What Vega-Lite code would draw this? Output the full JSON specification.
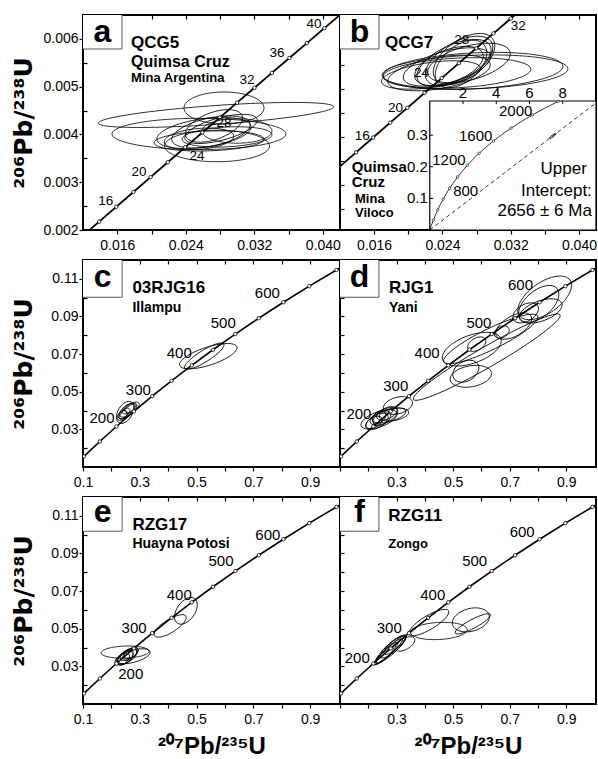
{
  "$schema": "https://vega.github.io/schema/vega-lite/v6.json",
  "background": "white",
  "padding": {"left": 10, "top": 13, "right": 1, "bottom": 1},
  "config": {
    "view": {"stroke": "black", "strokeWidth": 2},
    "font": "Liberation Sans",
    "text": {"font": "Liberation Sans", "color": "black"},
    "axis": {"domain": false, "grid": false, "tickColor": "black", "tickWidth": 1.2, "tickSize": 4, "labelFont": "Liberation Sans", "labelFontSize": 14, "labelColor": "black", "labelPadding": 2, "labelFlush": false, "labelOverlap": false, "titleFont": "Liberation Sans", "titleFontSize": 24, "titleFontWeight": "bold", "titleColor": "black"}
  },
  "datasets": {
    "concA": [{"t":12,"x":0.011888,"y":0.0018632},{"t":14,"x":0.013883,"y":0.0021741},{"t":16,"x":0.015882,"y":0.0024851},{"t":18,"x":0.017885,"y":0.0027962},{"t":20,"x":0.019892,"y":0.0031073},{"t":22,"x":0.021903,"y":0.0034186},{"t":24,"x":0.023918,"y":0.0037299},{"t":26,"x":0.025937,"y":0.0040414},{"t":28,"x":0.02796,"y":0.0043529},{"t":30,"x":0.029986,"y":0.0046646},{"t":32,"x":0.032017,"y":0.0049763},{"t":34,"x":0.034052,"y":0.0052882},{"t":36,"x":0.03609,"y":0.0056001},{"t":38,"x":0.038133,"y":0.0059121},{"t":40,"x":0.04018,"y":0.0062243},{"t":42,"x":0.042231,"y":0.0065365},{"t":44,"x":0.044286,"y":0.0068488}],
    "concB": [{"t":50,"x":0.050475,"y":0.0077864},{"t":100,"x":0.103498,"y":0.015634},{"t":150,"x":0.159197,"y":0.023542},{"t":200,"x":0.217708,"y":0.031511},{"t":250,"x":0.279172,"y":0.039543},{"t":300,"x":0.343737,"y":0.047637},{"t":350,"x":0.411562,"y":0.055795},{"t":400,"x":0.482812,"y":0.064016},{"t":450,"x":0.557657,"y":0.0723},{"t":500,"x":0.63628,"y":0.08065},{"t":550,"x":0.71887,"y":0.089064},{"t":600,"x":0.805631,"y":0.097544},{"t":650,"x":0.896771,"y":0.106089},{"t":700,"x":0.99251,"y":0.114702},{"t":750,"x":1.093083,"y":0.12338}],
    "concI": [{"t":0,"x":0,"y":0},{"t":100,"x":0.103498,"y":0.015634},{"t":200,"x":0.217708,"y":0.031511},{"t":300,"x":0.343737,"y":0.047637},{"t":400,"x":0.482812,"y":0.064016},{"t":500,"x":0.63628,"y":0.08065},{"t":600,"x":0.805631,"y":0.097544},{"t":700,"x":0.99251,"y":0.114702},{"t":800,"x":1.19873,"y":0.13213},{"t":900,"x":1.426296,"y":0.149828},{"t":1000,"x":1.67741,"y":0.167802},{"t":1100,"x":1.954517,"y":0.186058},{"t":1200,"x":2.260302,"y":0.2046},{"t":1300,"x":2.597738,"y":0.22343},{"t":1400,"x":2.970093,"y":0.242556},{"t":1500,"x":3.380991,"y":0.261981},{"t":1600,"x":3.834413,"y":0.28171},{"t":1700,"x":4.334766,"y":0.301747},{"t":1800,"x":4.8869,"y":0.322098},{"t":1900,"x":5.496182,"y":0.342768},{"t":2000,"x":6.16853,"y":0.36376},{"t":2100,"x":6.910453,"y":0.385082},{"t":2200,"x":7.729162,"y":0.406737}],
    "disc": [{"x":0,"y":0},{"x":10,"y":0.40213}],
    "ibox": [{"x":0,"x2":10,"y":0,"y2":0.408}],
    "iticks": [{"x":2,"x2":2,"y":0.408,"y2":0.398},{"x":4,"x2":4,"y":0.408,"y2":0.398},{"x":6,"x2":6,"y":0.408,"y2":0.398},{"x":8,"x2":8,"y":0.408,"y2":0.398},{"x":0,"x2":0.2,"y":0.1,"y2":0.1},{"x":0,"x2":0.2,"y":0.2,"y2":0.2},{"x":0,"x2":0.2,"y":0.3,"y2":0.3}],
    "ixlab": [{"text":"2","x":2,"y":0.416},{"text":"4","x":4,"y":0.416},{"text":"6","x":6,"y":0.416},{"text":"8","x":8,"y":0.416}],
    "iylab": [{"text":"0.1","x":-0.12,"y":0.1},{"text":"0.2","x":-0.12,"y":0.2},{"text":"0.3","x":-0.12,"y":0.3}],
    "itext": [{"text":"Upper","x":9.45,"y":0.194},{"text":"Intercept:","x":9.75,"y":0.124},{"text":"2656 ± 6 Ma","x":9.75,"y":0.061}],
    "boxes": [
      {"panel":"a","x":0.011,"x2":0.016552,"y":0.005789,"y2":0.007},
      {"panel":"b","x":0.011,"x2":0.01657,"y":0.004339,"y2":0.0055},
      {"panel":"c","x":0.05,"x2":0.2377,"y":0.1002,"y2":0.13},
      {"panel":"d","x":0.05,"x2":0.2377,"y":0.1002,"y2":0.13},
      {"panel":"e","x":0.05,"x2":0.2377,"y":0.1018,"y2":0.13},
      {"panel":"f","x":0.05,"x2":0.2377,"y":0.1018,"y2":0.13}
    ],
    "txt": [
      {"panel":"a","kind":"letter","text":"a","x":0.014276,"y":0.005941},
      {"panel":"a","kind":"title","text":"QCG5","x":0.017603,"y":0.00592},
      {"panel":"a","kind":"subL","text":"Quimsa Cruz","x":0.017603,"y":0.005517},
      {"panel":"a","kind":"subS","text":"Mina Argentina","x":0.017603,"y":0.005172},
      {"panel":"b","kind":"letter","text":"b","x":0.014285,"y":0.004491},
      {"panel":"b","kind":"title","text":"QCG7","x":0.017274,"y":0.00447},
      {"panel":"b","kind":"subM","text":"Quimsa","x":0.013371,"y":0.001865},
      {"panel":"b","kind":"subM","text":"Cruz","x":0.013371,"y":0.001545},
      {"panel":"b","kind":"subS","text":"Mina","x":0.013758,"y":0.001194},
      {"panel":"b","kind":"subS","text":"Viloco","x":0.013758,"y":0.000908},
      {"panel":"c","kind":"letter","text":"c","x":0.1688,"y":0.10574},
      {"panel":"c","kind":"title","text":"03RJG16","x":0.274,"y":0.10537},
      {"panel":"c","kind":"sub","text":"Illampu","x":0.274,"y":0.09437},
      {"panel":"d","kind":"letter","text":"d","x":0.1688,"y":0.10574},
      {"panel":"d","kind":"title","text":"RJG1","x":0.273,"y":0.10537},
      {"panel":"d","kind":"sub","text":"Yani","x":0.273,"y":0.09469},
      {"panel":"e","kind":"letter","text":"e","x":0.1688,"y":0.10665},
      {"panel":"e","kind":"title","text":"RZG17","x":0.274,"y":0.10489},
      {"panel":"e","kind":"sub","text":"Huayna Potosi","x":0.274,"y":0.09512},
      {"panel":"f","kind":"letter","text":"f","x":0.1688,"y":0.10665},
      {"panel":"f","kind":"title","text":"RZG11","x":0.2705,"y":0.1097},
      {"panel":"f","kind":"subS","text":"Zongo","x":0.2705,"y":0.09512}
    ],
    "ages": [
      {"panel":"a","text":"16","x":0.01465,"y":0.002609},{"panel":"a","text":"20","x":0.018537,"y":0.003222},{"panel":"a","text":"24","x":0.025307,"y":0.00355},{"panel":"a","text":"28","x":0.02846,"y":0.00425},{"panel":"a","text":"32","x":0.031143,"y":0.00514},{"panel":"a","text":"36","x":0.034645,"y":0.005705},{"panel":"a","text":"40","x":0.038964,"y":0.006312},
      {"panel":"b","text":"16","x":0.0146,"y":0.002519},{"panel":"b","text":"20","x":0.0185,"y":0.00311},{"panel":"b","text":"24","x":0.02154,"y":0.003843},{"panel":"b","text":"28","x":0.02628,"y":0.004521},{"panel":"b","text":"32","x":0.03289,"y":0.00482},
      {"panel":"c","text":"200","x":0.167,"y":0.036},{"panel":"c","text":"300","x":0.295,"y":0.0511},{"panel":"c","text":"400","x":0.439,"y":0.0707},{"panel":"c","text":"500","x":0.594,"y":0.0867},{"panel":"c","text":"600","x":0.749,"y":0.1022},
      {"panel":"d","text":"200","x":0.167,"y":0.0383},{"panel":"d","text":"300","x":0.297,"y":0.0529},{"panel":"d","text":"400","x":0.408,"y":0.0707},{"panel":"d","text":"500","x":0.591,"y":0.0867},{"panel":"d","text":"600","x":0.738,"y":0.1068},
      {"panel":"e","text":"200","x":0.268,"y":0.0257},{"panel":"e","text":"300","x":0.28,"y":0.0503},{"panel":"e","text":"400","x":0.439,"y":0.068},{"panel":"e","text":"500","x":0.586,"y":0.0858},{"panel":"e","text":"600","x":0.751,"y":0.0996},
      {"panel":"f","text":"200","x":0.161,"y":0.0346},{"panel":"f","text":"300","x":0.274,"y":0.0506},{"panel":"f","text":"400","x":0.428,"y":0.0681},{"panel":"f","text":"500","x":0.576,"y":0.086},{"panel":"f","text":"600","x":0.744,"y":0.1013},
      {"panel":"i","text":"800","x":2.16,"y":0.124},{"panel":"i","text":"1200","x":1.155,"y":0.221},{"panel":"i","text":"1600","x":2.76,"y":0.297},{"panel":"i","text":"2000","x":5.17,"y":0.376}
    ],
    "ell": [
      {"panel":"a","x":0.027525,"y":0.004408,"major":0.02755,"ratio":"r08","angle":-4},
      {"panel":"a","x":0.02554,"y":0.00401,"major":0.02031,"ratio":"r18","angle":0},
      {"panel":"a","x":0.028459,"y":0.004554,"major":0.00934,"ratio":"r40","angle":0},
      {"panel":"a","x":0.027641,"y":0.003759,"major":0.01226,"ratio":"r30","angle":0},
      {"panel":"a","x":0.026124,"y":0.004031,"major":0.01109,"ratio":"r30","angle":-8},
      {"panel":"a","x":0.026941,"y":0.004052,"major":0.00934,"ratio":"r35","angle":-12},
      {"panel":"a","x":0.028108,"y":0.004115,"major":0.00875,"ratio":"r30","angle":-15},
      {"panel":"a","x":0.02554,"y":0.003906,"major":0.00817,"ratio":"r30","angle":-5},
      {"panel":"a","x":0.028809,"y":0.003948,"major":0.01051,"ratio":"r22","angle":-3},
      {"panel":"a","x":0.027291,"y":0.004178,"major":0.007,"ratio":"r45","angle":-20},
      {"panel":"a","x":0.026708,"y":0.003864,"major":0.01284,"ratio":"r18","angle":-2},
      {"panel":"a","x":0.029976,"y":0.004073,"major":0.00817,"ratio":"r35","angle":0},
      {"panel":"b","x":0.027821,"y":0.003858,"major":0.0218,"ratio":"r18","angle":-2},
      {"panel":"b","x":0.027587,"y":0.003879,"major":0.0211,"ratio":"r20","angle":-3},
      {"panel":"b","x":0.025711,"y":0.003837,"major":0.01734,"ratio":"r20","angle":-3},
      {"panel":"b","x":0.023602,"y":0.003837,"major":0.01219,"ratio":"r30","angle":-10},
      {"panel":"b","x":0.022664,"y":0.003795,"major":0.01172,"ratio":"r25","angle":-8},
      {"panel":"b","x":0.02536,"y":0.004046,"major":0.00938,"ratio":"r45","angle":-25},
      {"panel":"b","x":0.025946,"y":0.004088,"major":0.00879,"ratio":"r50","angle":-30},
      {"panel":"b","x":0.024774,"y":0.003983,"major":0.00844,"ratio":"r45","angle":-20},
      {"panel":"b","x":0.026532,"y":0.00413,"major":0.0082,"ratio":"r55","angle":-35},
      {"panel":"b","x":0.02454,"y":0.003962,"major":0.01055,"ratio":"r35","angle":-15},
      {"panel":"b","x":0.027118,"y":0.004046,"major":0.00996,"ratio":"r40","angle":-15},
      {"panel":"b","x":0.02618,"y":0.004025,"major":0.00703,"ratio":"r60","angle":-40},
      {"panel":"i","x":7.4,"y":0.2976,"major":0.5,"ratio":"r22","angle":-37},
      {"panel":"c","x":0.5412,"y":0.0689,"major":0.2118,"ratio":"r30","angle":-18},
      {"panel":"c","x":0.5271,"y":0.0689,"major":0.1624,"ratio":"r25","angle":-32},
      {"panel":"c","x":0.2483,"y":0.039,"major":0.0847,"ratio":"r60","angle":-60},
      {"panel":"c","x":0.2553,"y":0.0401,"major":0.0635,"ratio":"r50","angle":-40},
      {"panel":"c","x":0.2624,"y":0.0411,"major":0.0565,"ratio":"r45","angle":-35},
      {"panel":"c","x":0.2447,"y":0.0385,"major":0.0494,"ratio":"r50","angle":-40},
      {"panel":"c","x":0.273,"y":0.0417,"major":0.0565,"ratio":"r50","angle":-30},
      {"panel":"c","x":0.2377,"y":0.0374,"major":0.0424,"ratio":"r60","angle":-45},
      {"panel":"c","x":0.2588,"y":0.0395,"major":0.0777,"ratio":"r35","angle":-40},
      {"panel":"d","x":0.8236,"y":0.0999,"major":0.2188,"ratio":"r50","angle":-35},
      {"panel":"d","x":0.8024,"y":0.0967,"major":0.1694,"ratio":"r55","angle":-40},
      {"panel":"d","x":0.8095,"y":0.0929,"major":0.1588,"ratio":"r45","angle":-20},
      {"panel":"d","x":0.6189,"y":0.0684,"major":0.5983,"ratio":"r12","angle":-30},
      {"panel":"d","x":0.5624,"y":0.0582,"major":0.1483,"ratio":"r50","angle":-10},
      {"panel":"d","x":0.5448,"y":0.0609,"major":0.0988,"ratio":"r70","angle":-30},
      {"panel":"d","x":0.5659,"y":0.0726,"major":0.2188,"ratio":"r45","angle":-20},
      {"panel":"d","x":0.6718,"y":0.0817,"major":0.0565,"ratio":"r70","angle":-30},
      {"panel":"d","x":0.5836,"y":0.0753,"major":0.0706,"ratio":"r60","angle":-30},
      {"panel":"d","x":0.633,"y":0.078,"major":0.3706,"ratio":"r20","angle":-26},
      {"panel":"d","x":0.7142,"y":0.0849,"major":0.1412,"ratio":"r50","angle":-30},
      {"panel":"d","x":0.7565,"y":0.0919,"major":0.0988,"ratio":"r60","angle":-30},
      {"panel":"d","x":0.3047,"y":0.0427,"major":0.1059,"ratio":"r55","angle":-15},
      {"panel":"d","x":0.2377,"y":0.0353,"major":0.1341,"ratio":"r40","angle":-20},
      {"panel":"d","x":0.2553,"y":0.0369,"major":0.1059,"ratio":"r45","angle":-25},
      {"panel":"d","x":0.2306,"y":0.0342,"major":0.0882,"ratio":"r50","angle":-30},
      {"panel":"d","x":0.273,"y":0.0374,"major":0.1235,"ratio":"r35","angle":-15},
      {"panel":"d","x":0.2483,"y":0.0358,"major":0.0706,"ratio":"r60","angle":-35},
      {"panel":"d","x":0.22,"y":0.0337,"major":0.0635,"ratio":"r55","angle":-30},
      {"panel":"d","x":0.2659,"y":0.0385,"major":0.0777,"ratio":"r50","angle":-25},
      {"panel":"d","x":0.2906,"y":0.0379,"major":0.1059,"ratio":"r40","angle":-10},
      {"panel":"d","x":0.2377,"y":0.0363,"major":0.0529,"ratio":"r70","angle":-40},
      {"panel":"e","x":0.4625,"y":0.0595,"major":0.1059,"ratio":"r60","angle":-55},
      {"panel":"e","x":0.4071,"y":0.0515,"major":0.1306,"ratio":"r35","angle":-32},
      {"panel":"e","x":0.2483,"y":0.0376,"major":0.1694,"ratio":"r25","angle":-2},
      {"panel":"e","x":0.2765,"y":0.0354,"major":0.1235,"ratio":"r35","angle":-15},
      {"panel":"e","x":0.2553,"y":0.0354,"major":0.0777,"ratio":"r50","angle":-35},
      {"panel":"e","x":0.2483,"y":0.0344,"major":0.0635,"ratio":"r55","angle":-40},
      {"panel":"e","x":0.2624,"y":0.0365,"major":0.0706,"ratio":"r45","angle":-30},
      {"panel":"e","x":0.2412,"y":0.0339,"major":0.0529,"ratio":"r60","angle":-40},
      {"panel":"e","x":0.2694,"y":0.0371,"major":0.0565,"ratio":"r50","angle":-35},
      {"panel":"e","x":0.2518,"y":0.0349,"major":0.0882,"ratio":"r40","angle":-30},
      {"panel":"e","x":0.2588,"y":0.036,"major":0.0424,"ratio":"r70","angle":-45},
      {"panel":"f","x":0.4142,"y":0.0533,"major":0.1624,"ratio":"r30","angle":-31},
      {"panel":"f","x":0.4495,"y":0.0488,"major":0.2012,"ratio":"r30","angle":-3},
      {"panel":"f","x":0.5624,"y":0.0547,"major":0.1341,"ratio":"r60","angle":-15},
      {"panel":"f","x":0.5695,"y":0.0526,"major":0.1412,"ratio":"r22","angle":-28},
      {"panel":"f","x":0.3294,"y":0.0419,"major":0.0777,"ratio":"r50","angle":-30},
      {"panel":"f","x":0.28,"y":0.0392,"major":0.1412,"ratio":"r25","angle":-42},
      {"panel":"f","x":0.273,"y":0.0382,"major":0.1271,"ratio":"r20","angle":-42},
      {"panel":"f","x":0.2871,"y":0.0403,"major":0.113,"ratio":"r30","angle":-40},
      {"panel":"f","x":0.2659,"y":0.0371,"major":0.1059,"ratio":"r22","angle":-44},
      {"panel":"f","x":0.2941,"y":0.0414,"major":0.0988,"ratio":"r30","angle":-40},
      {"panel":"f","x":0.2553,"y":0.0355,"major":0.0882,"ratio":"r25","angle":-42},
      {"panel":"f","x":0.2765,"y":0.0387,"major":0.1553,"ratio":"r15","angle":-42}
    ]
  },
  "resolve": {"scale": {"size": "independent"}},
  "columns": 2,
  "spacing": {"row": 30, "column": 0},
  "bounds": "flush",
  "concat": [
    {
      "width": 257, "height": 215,
      "resolve": {"axis": {"x": "independent", "y": "independent"}},
      "encoding": {
        "x": {"field": "x", "type": "quantitative", "scale": {"domain": [0.012, 0.042], "nice": false, "zero": false}, "axis": null},
        "y": {"field": "y", "type": "quantitative", "scale": {"domain": [0.002, 0.0065], "nice": false, "zero": false}, "axis": null}
      },
      "layer": [
        {"data": {"name": "ell"}, "transform": [{"filter": "datum.panel == 'a'"}],
         "mark": {"type": "point", "filled": false, "color": "black", "strokeWidth": 0.8, "opacity": 1, "clip": true},
         "encoding": {
           "shape": {"field": "ratio", "type": "nominal", "legend": null, "scale": {"domain": ["r08","r12","r15","r18","r20","r22","r25","r30","r35","r40","r45","r50","r55","r60","r70"], "range": ["M-1,0A1,0.08,0,1,0,1,0A1,0.08,0,1,0,-1,0Z","M-1,0A1,0.12,0,1,0,1,0A1,0.12,0,1,0,-1,0Z","M-1,0A1,0.15,0,1,0,1,0A1,0.15,0,1,0,-1,0Z","M-1,0A1,0.18,0,1,0,1,0A1,0.18,0,1,0,-1,0Z","M-1,0A1,0.2,0,1,0,1,0A1,0.2,0,1,0,-1,0Z","M-1,0A1,0.22,0,1,0,1,0A1,0.22,0,1,0,-1,0Z","M-1,0A1,0.25,0,1,0,1,0A1,0.25,0,1,0,-1,0Z","M-1,0A1,0.3,0,1,0,1,0A1,0.3,0,1,0,-1,0Z","M-1,0A1,0.35,0,1,0,1,0A1,0.35,0,1,0,-1,0Z","M-1,0A1,0.4,0,1,0,1,0A1,0.4,0,1,0,-1,0Z","M-1,0A1,0.45,0,1,0,1,0A1,0.45,0,1,0,-1,0Z","M-1,0A1,0.5,0,1,0,1,0A1,0.5,0,1,0,-1,0Z","M-1,0A1,0.55,0,1,0,1,0A1,0.55,0,1,0,-1,0Z","M-1,0A1,0.6,0,1,0,1,0A1,0.6,0,1,0,-1,0Z","M-1,0A1,0.7,0,1,0,1,0A1,0.7,0,1,0,-1,0Z"]}},
           "size": {"field": "major", "type": "quantitative", "legend": null, "scale": {"type": "pow", "exponent": 2, "domain": [0, 0.03], "range": [0, 66049]}},
           "angle": {"field": "angle", "type": "quantitative", "scale": null}
         }},
        {"data": {"name": "concA"}, "mark": {"type": "line", "color": "black", "strokeWidth": 1.8, "clip": true},
         "encoding": {
           "x": {"field": "x", "type": "quantitative", "scale": {"domain": [0.012, 0.042], "nice": false, "zero": false}, "axis": {"orient": "bottom", "values": [0.016,0.02,0.024,0.028,0.032,0.036,0.04], "format": ".3f", "labelExpr": "round(datum.value*1000) % 8 == 0 ? datum.label : ''", "title": null, "labelPadding": 4}},
           "y": {"field": "y", "type": "quantitative", "scale": {"domain": [0.002, 0.0065], "nice": false, "zero": false}, "axis": {"orient": "left", "values": [0.002,0.003,0.004,0.005,0.006], "format": ".3f", "title": "²⁰⁶Pb/²³⁸U", "titleFont": "DejaVu Sans", "titleFontSize": 25, "titlePadding": 6, "labelPadding": 1}}
         }},
        {"data": {"name": "concA"}, "mark": {"type": "point", "shape": "circle", "filled": true, "fill": "white", "stroke": "black", "strokeWidth": 0.8, "size": 12, "opacity": 1, "clip": true},
         "encoding": {
           "x": {"field": "x", "type": "quantitative", "scale": {"domain": [0.012, 0.042], "nice": false, "zero": false}, "axis": {"orient": "top", "values": [0.016,0.02,0.024,0.028,0.032,0.036,0.04], "labels": false, "tickSize": -4, "title": null}},
           "y": {"field": "y", "type": "quantitative", "scale": {"domain": [0.002, 0.0065], "nice": false, "zero": false}, "axis": {"orient": "left", "values": [0.0025,0.0035,0.0045,0.0055], "labels": false, "tickSize": -4, "title": null}}
         }},
        {"data": {"name": "ages"}, "transform": [{"filter": "datum.panel == 'a'"}], "mark": {"type": "text", "fontSize": 13.5, "align": "center", "baseline": "middle"}, "encoding": {"text": {"field": "text"}}},
        {"data": {"name": "boxes"}, "transform": [{"filter": "datum.panel == 'a'"}], "mark": {"type": "rect", "fill": "white", "stroke": "#555555", "strokeWidth": 1, "clip": true}, "encoding": {"x2": {"field": "x2"}, "y2": {"field": "y2"}}},
        {"data": {"name": "txt"}, "transform": [{"filter": "datum.panel == 'a'"}], "mark": {"type": "text", "fontWeight": "bold", "fontSize": {"expr": "datum.kind == 'letter' ? 32 : datum.kind == 'title' ? 17 : datum.kind == 'subL' ? 16 : datum.kind == 'subM' ? 15 : datum.kind == 'sub' ? 14 : 13"}, "align": {"expr": "datum.kind == 'letter' ? 'center' : 'left'"}, "baseline": {"expr": "datum.kind == 'letter' ? 'alphabetic' : 'middle'"}}, "encoding": {"text": {"field": "text"}}}
      ]
    },
    {
      "width": 256, "height": 215,
      "resolve": {"scale": {"x": "independent", "y": "independent", "size": "independent"}},
      "layer": [
        {
          "resolve": {"axis": {"x": "independent", "y": "independent"}},
          "encoding": {
            "x": {"field": "x", "type": "quantitative", "scale": {"domain": [0.012, 0.042], "nice": false, "zero": false}, "axis": null},
            "y": {"field": "y", "type": "quantitative", "scale": {"domain": [0.00055, 0.00505], "nice": false, "zero": false}, "axis": null}
          },
          "layer": [
            {"data": {"name": "ell"}, "transform": [{"filter": "datum.panel == 'b'"}],
             "mark": {"type": "point", "filled": false, "color": "black", "strokeWidth": 0.8, "opacity": 1, "clip": true},
             "encoding": {
               "shape": {"field": "ratio", "type": "nominal", "legend": null, "scale": {"domain": ["r08","r12","r15","r18","r20","r22","r25","r30","r35","r40","r45","r50","r55","r60","r70"], "range": ["M-1,0A1,0.08,0,1,0,1,0A1,0.08,0,1,0,-1,0Z","M-1,0A1,0.12,0,1,0,1,0A1,0.12,0,1,0,-1,0Z","M-1,0A1,0.15,0,1,0,1,0A1,0.15,0,1,0,-1,0Z","M-1,0A1,0.18,0,1,0,1,0A1,0.18,0,1,0,-1,0Z","M-1,0A1,0.2,0,1,0,1,0A1,0.2,0,1,0,-1,0Z","M-1,0A1,0.22,0,1,0,1,0A1,0.22,0,1,0,-1,0Z","M-1,0A1,0.25,0,1,0,1,0A1,0.25,0,1,0,-1,0Z","M-1,0A1,0.3,0,1,0,1,0A1,0.3,0,1,0,-1,0Z","M-1,0A1,0.35,0,1,0,1,0A1,0.35,0,1,0,-1,0Z","M-1,0A1,0.4,0,1,0,1,0A1,0.4,0,1,0,-1,0Z","M-1,0A1,0.45,0,1,0,1,0A1,0.45,0,1,0,-1,0Z","M-1,0A1,0.5,0,1,0,1,0A1,0.5,0,1,0,-1,0Z","M-1,0A1,0.55,0,1,0,1,0A1,0.55,0,1,0,-1,0Z","M-1,0A1,0.6,0,1,0,1,0A1,0.6,0,1,0,-1,0Z","M-1,0A1,0.7,0,1,0,1,0A1,0.7,0,1,0,-1,0Z"]}},
               "size": {"field": "major", "type": "quantitative", "legend": null, "scale": {"type": "pow", "exponent": 2, "domain": [0, 0.03], "range": [0, 65536]}},
               "angle": {"field": "angle", "type": "quantitative", "scale": null}
             }},
            {"data": {"name": "concA"}, "mark": {"type": "line", "color": "black", "strokeWidth": 1.8, "clip": true},
             "encoding": {
               "x": {"field": "x", "type": "quantitative", "scale": {"domain": [0.012, 0.042], "nice": false, "zero": false}, "axis": {"orient": "bottom", "values": [0.016,0.02,0.024,0.028,0.032,0.036,0.04], "format": ".3f", "labelExpr": "round(datum.value*1000) % 8 == 0 ? datum.label : ''", "title": null, "labelPadding": 4}},
               "y": {"field": "y", "type": "quantitative", "scale": {"domain": [0.00055, 0.00505], "nice": false, "zero": false}, "axis": {"orient": "left", "values": [0.001,0.0015,0.002,0.0025,0.003,0.0035,0.004,0.0045], "labels": false, "tickSize": -4, "title": null}}
             }},
            {"data": {"name": "concA"}, "mark": {"type": "point", "shape": "circle", "filled": true, "fill": "white", "stroke": "black", "strokeWidth": 0.8, "size": 12, "opacity": 1, "clip": true},
             "encoding": {
               "x": {"field": "x", "type": "quantitative", "scale": {"domain": [0.012, 0.042], "nice": false, "zero": false}, "axis": {"orient": "top", "values": [0.016,0.02,0.024,0.028,0.032,0.036,0.04], "labels": false, "tickSize": -4, "title": null}}
             }},
            {"data": {"name": "ages"}, "transform": [{"filter": "datum.panel == 'b'"}], "mark": {"type": "text", "fontSize": 13.5, "align": "center", "baseline": "middle"}, "encoding": {"text": {"field": "text"}}},
            {"data": {"name": "boxes"}, "transform": [{"filter": "datum.panel == 'b'"}], "mark": {"type": "rect", "fill": "white", "stroke": "#555555", "strokeWidth": 1, "clip": true}, "encoding": {"x2": {"field": "x2"}, "y2": {"field": "y2"}}},
            {"data": {"name": "txt"}, "transform": [{"filter": "datum.panel == 'b'"}], "mark": {"type": "text", "fontWeight": "bold", "fontSize": {"expr": "datum.kind == 'letter' ? 32 : datum.kind == 'title' ? 17 : datum.kind == 'subL' ? 16 : datum.kind == 'subM' ? 15 : datum.kind == 'sub' ? 14 : 13"}, "align": {"expr": "datum.kind == 'letter' ? 'center' : 'left'"}, "baseline": {"expr": "datum.kind == 'letter' ? 'alphabetic' : 'middle'"}}, "encoding": {"text": {"field": "text"}}}
          ]
        },
        {
          "encoding": {
            "x": {"field": "x", "type": "quantitative", "scale": {"domain": [-5.4, 10], "nice": false, "zero": false}, "axis": null},
            "y": {"field": "y", "type": "quantitative", "scale": {"domain": [0, 0.68], "nice": false, "zero": false}, "axis": null}
          },
          "layer": [
            {"data": {"name": "ibox"}, "mark": {"type": "rect", "fill": "white", "stroke": "black", "strokeWidth": 1.2}, "encoding": {"x2": {"field": "x2"}, "y2": {"field": "y2"}}},
            {"data": {"name": "iticks"}, "mark": {"type": "rule", "color": "black", "strokeWidth": 1}, "encoding": {"x2": {"field": "x2"}, "y2": {"field": "y2"}}},
            {"data": {"name": "ixlab"}, "mark": {"type": "text", "fontSize": 15, "align": "center", "baseline": "alphabetic"}, "encoding": {"text": {"field": "text"}}},
            {"data": {"name": "iylab"}, "mark": {"type": "text", "fontSize": 15, "align": "right", "baseline": "middle"}, "encoding": {"text": {"field": "text"}}},
            {"data": {"name": "disc"}, "mark": {"type": "line", "color": "black", "strokeWidth": 0.8, "strokeDash": [4, 3]}, "encoding": {}},
            {"data": {"name": "concI"}, "mark": {"type": "line", "color": "black", "strokeWidth": 0.8}, "encoding": {}},
            {"data": {"name": "concI"}, "transform": [{"filter": "datum.t > 0 && datum.t % 200 == 0"}], "mark": {"type": "point", "shape": "circle", "filled": true, "fill": "white", "stroke": "black", "strokeWidth": 0.6, "size": 6, "opacity": 1}},
            {"data": {"name": "ell"}, "transform": [{"filter": "datum.panel == 'i'"}],
             "mark": {"type": "point", "filled": false, "color": "black", "strokeWidth": 0.8, "opacity": 1},
             "encoding": {
               "shape": {"field": "ratio", "type": "nominal", "legend": null, "scale": {"domain": ["r08","r12","r15","r18","r20","r22","r25","r30","r35","r40","r45","r50","r55","r60","r70"], "range": ["M-1,0A1,0.08,0,1,0,1,0A1,0.08,0,1,0,-1,0Z","M-1,0A1,0.12,0,1,0,1,0A1,0.12,0,1,0,-1,0Z","M-1,0A1,0.15,0,1,0,1,0A1,0.15,0,1,0,-1,0Z","M-1,0A1,0.18,0,1,0,1,0A1,0.18,0,1,0,-1,0Z","M-1,0A1,0.2,0,1,0,1,0A1,0.2,0,1,0,-1,0Z","M-1,0A1,0.22,0,1,0,1,0A1,0.22,0,1,0,-1,0Z","M-1,0A1,0.25,0,1,0,1,0A1,0.25,0,1,0,-1,0Z","M-1,0A1,0.3,0,1,0,1,0A1,0.3,0,1,0,-1,0Z","M-1,0A1,0.35,0,1,0,1,0A1,0.35,0,1,0,-1,0Z","M-1,0A1,0.4,0,1,0,1,0A1,0.4,0,1,0,-1,0Z","M-1,0A1,0.45,0,1,0,1,0A1,0.45,0,1,0,-1,0Z","M-1,0A1,0.5,0,1,0,1,0A1,0.5,0,1,0,-1,0Z","M-1,0A1,0.55,0,1,0,1,0A1,0.55,0,1,0,-1,0Z","M-1,0A1,0.6,0,1,0,1,0A1,0.6,0,1,0,-1,0Z","M-1,0A1,0.7,0,1,0,1,0A1,0.7,0,1,0,-1,0Z"]}},
               "size": {"field": "major", "type": "quantitative", "legend": null, "scale": {"type": "pow", "exponent": 2, "domain": [0, 15.4], "range": [0, 65536]}},
               "angle": {"field": "angle", "type": "quantitative", "scale": null}
             }},
            {"data": {"name": "ages"}, "transform": [{"filter": "datum.panel == 'i'"}], "mark": {"type": "text", "fontSize": 15, "align": "center", "baseline": "middle"}, "encoding": {"text": {"field": "text"}}},
            {"data": {"name": "itext"}, "mark": {"type": "text", "fontSize": 17, "align": "right", "baseline": "middle"}, "encoding": {"text": {"field": "text"}}}
          ]
        }
      ]
    },
    {
      "width": 257, "height": 207,
      "resolve": {"axis": {"x": "independent", "y": "independent"}},
      "encoding": {
        "x": {"field": "x", "type": "quantitative", "scale": {"domain": [0.1, 1.005], "nice": false, "zero": false}, "axis": null},
        "y": {"field": "y", "type": "quantitative", "scale": {"domain": [0.01, 0.12], "nice": false, "zero": false}, "axis": null}
      },
      "layer": [
        {"data": {"name": "ell"}, "transform": [{"filter": "datum.panel == 'c'"}],
         "mark": {"type": "point", "filled": false, "color": "black", "strokeWidth": 0.8, "opacity": 1, "clip": true},
         "encoding": {
           "shape": {"field": "ratio", "type": "nominal", "legend": null, "scale": {"domain": ["r08","r12","r15","r18","r20","r22","r25","r30","r35","r40","r45","r50","r55","r60","r70"], "range": ["M-1,0A1,0.08,0,1,0,1,0A1,0.08,0,1,0,-1,0Z","M-1,0A1,0.12,0,1,0,1,0A1,0.12,0,1,0,-1,0Z","M-1,0A1,0.15,0,1,0,1,0A1,0.15,0,1,0,-1,0Z","M-1,0A1,0.18,0,1,0,1,0A1,0.18,0,1,0,-1,0Z","M-1,0A1,0.2,0,1,0,1,0A1,0.2,0,1,0,-1,0Z","M-1,0A1,0.22,0,1,0,1,0A1,0.22,0,1,0,-1,0Z","M-1,0A1,0.25,0,1,0,1,0A1,0.25,0,1,0,-1,0Z","M-1,0A1,0.3,0,1,0,1,0A1,0.3,0,1,0,-1,0Z","M-1,0A1,0.35,0,1,0,1,0A1,0.35,0,1,0,-1,0Z","M-1,0A1,0.4,0,1,0,1,0A1,0.4,0,1,0,-1,0Z","M-1,0A1,0.45,0,1,0,1,0A1,0.45,0,1,0,-1,0Z","M-1,0A1,0.5,0,1,0,1,0A1,0.5,0,1,0,-1,0Z","M-1,0A1,0.55,0,1,0,1,0A1,0.55,0,1,0,-1,0Z","M-1,0A1,0.6,0,1,0,1,0A1,0.6,0,1,0,-1,0Z","M-1,0A1,0.7,0,1,0,1,0A1,0.7,0,1,0,-1,0Z"]}},
           "size": {"field": "major", "type": "quantitative", "legend": null, "scale": {"type": "pow", "exponent": 2, "domain": [0, 0.905], "range": [0, 66049]}},
           "angle": {"field": "angle", "type": "quantitative", "scale": null}
         }},
        {"data": {"name": "concB"}, "mark": {"type": "line", "color": "black", "strokeWidth": 1.6, "clip": true},
         "encoding": {
           "x": {"field": "x", "type": "quantitative", "scale": {"domain": [0.1, 1.005], "nice": false, "zero": false}, "axis": {"orient": "bottom", "values": [0.1,0.2,0.3,0.4,0.5,0.6,0.7,0.8,0.9], "format": ".1f", "labelExpr": "round(datum.value*10) % 2 == 1 ? datum.label : ''", "title": null, "labelPadding": 4}},
           "y": {"field": "y", "type": "quantitative", "scale": {"domain": [0.01, 0.12], "nice": false, "zero": false}, "axis": {"orient": "left", "values": [0.03,0.05,0.07,0.09,0.11], "format": ".2f", "title": "²⁰⁶Pb/²³⁸U", "titleFont": "DejaVu Sans", "titleFontSize": 25, "titlePadding": 14, "labelPadding": 1}}
         }},
        {"data": {"name": "concB"}, "transform": [{"filter": "datum.t >= 100 && datum.t <= 700"}], "mark": {"type": "point", "shape": "circle", "filled": true, "fill": "white", "stroke": "black", "strokeWidth": 0.8, "size": 12, "opacity": 1, "clip": true},
         "encoding": {
           "x": {"field": "x", "type": "quantitative", "scale": {"domain": [0.1, 1.005], "nice": false, "zero": false}, "axis": {"orient": "top", "values": [0.2,0.3,0.4,0.5,0.6,0.7,0.8,0.9], "labels": false, "tickSize": -4, "title": null}},
           "y": {"field": "y", "type": "quantitative", "scale": {"domain": [0.01, 0.12], "nice": false, "zero": false}, "axis": {"orient": "left", "values": [0.02,0.04,0.06,0.08,0.1], "labels": false, "tickSize": -4, "title": null}}
         }},
        {"data": {"name": "ages"}, "transform": [{"filter": "datum.panel == 'c'"}], "mark": {"type": "text", "fontSize": 15, "align": "center", "baseline": "middle"}, "encoding": {"text": {"field": "text"}}},
        {"data": {"name": "boxes"}, "transform": [{"filter": "datum.panel == 'c'"}], "mark": {"type": "rect", "fill": "white", "stroke": "#555555", "strokeWidth": 1, "clip": true}, "encoding": {"x2": {"field": "x2"}, "y2": {"field": "y2"}}},
        {"data": {"name": "txt"}, "transform": [{"filter": "datum.panel == 'c'"}], "mark": {"type": "text", "fontWeight": "bold", "fontSize": {"expr": "datum.kind == 'letter' ? 32 : datum.kind == 'title' ? 17 : datum.kind == 'subL' ? 16 : datum.kind == 'subM' ? 15 : datum.kind == 'sub' ? 14 : 13"}, "align": {"expr": "datum.kind == 'letter' ? 'center' : 'left'"}, "baseline": {"expr": "datum.kind == 'letter' ? 'alphabetic' : 'middle'"}}, "encoding": {"text": {"field": "text"}}}
      ]
    },
    {
      "width": 256, "height": 207,
      "resolve": {"axis": {"x": "independent", "y": "independent"}},
      "encoding": {
        "x": {"field": "x", "type": "quantitative", "scale": {"domain": [0.1, 1.005], "nice": false, "zero": false}, "axis": null},
        "y": {"field": "y", "type": "quantitative", "scale": {"domain": [0.01, 0.12], "nice": false, "zero": false}, "axis": null}
      },
      "layer": [
        {"data": {"name": "ell"}, "transform": [{"filter": "datum.panel == 'd'"}],
         "mark": {"type": "point", "filled": false, "color": "black", "strokeWidth": 0.8, "opacity": 1, "clip": true},
         "encoding": {
           "shape": {"field": "ratio", "type": "nominal", "legend": null, "scale": {"domain": ["r08","r12","r15","r18","r20","r22","r25","r30","r35","r40","r45","r50","r55","r60","r70"], "range": ["M-1,0A1,0.08,0,1,0,1,0A1,0.08,0,1,0,-1,0Z","M-1,0A1,0.12,0,1,0,1,0A1,0.12,0,1,0,-1,0Z","M-1,0A1,0.15,0,1,0,1,0A1,0.15,0,1,0,-1,0Z","M-1,0A1,0.18,0,1,0,1,0A1,0.18,0,1,0,-1,0Z","M-1,0A1,0.2,0,1,0,1,0A1,0.2,0,1,0,-1,0Z","M-1,0A1,0.22,0,1,0,1,0A1,0.22,0,1,0,-1,0Z","M-1,0A1,0.25,0,1,0,1,0A1,0.25,0,1,0,-1,0Z","M-1,0A1,0.3,0,1,0,1,0A1,0.3,0,1,0,-1,0Z","M-1,0A1,0.35,0,1,0,1,0A1,0.35,0,1,0,-1,0Z","M-1,0A1,0.4,0,1,0,1,0A1,0.4,0,1,0,-1,0Z","M-1,0A1,0.45,0,1,0,1,0A1,0.45,0,1,0,-1,0Z","M-1,0A1,0.5,0,1,0,1,0A1,0.5,0,1,0,-1,0Z","M-1,0A1,0.55,0,1,0,1,0A1,0.55,0,1,0,-1,0Z","M-1,0A1,0.6,0,1,0,1,0A1,0.6,0,1,0,-1,0Z","M-1,0A1,0.7,0,1,0,1,0A1,0.7,0,1,0,-1,0Z"]}},
           "size": {"field": "major", "type": "quantitative", "legend": null, "scale": {"type": "pow", "exponent": 2, "domain": [0, 0.905], "range": [0, 65536]}},
           "angle": {"field": "angle", "type": "quantitative", "scale": null}
         }},
        {"data": {"name": "concB"}, "mark": {"type": "line", "color": "black", "strokeWidth": 1.6, "clip": true},
         "encoding": {
           "x": {"field": "x", "type": "quantitative", "scale": {"domain": [0.1, 1.005], "nice": false, "zero": false}, "axis": {"orient": "bottom", "values": [0.1,0.2,0.3,0.4,0.5,0.6,0.7,0.8,0.9], "format": ".1f", "labelExpr": "round(datum.value*10) % 2 == 1 && round(datum.value*10) > 1 ? datum.label : ''", "title": null, "labelPadding": 4}},
           "y": {"field": "y", "type": "quantitative", "scale": {"domain": [0.01, 0.12], "nice": false, "zero": false}, "axis": {"orient": "left", "values": [0.02,0.03,0.04,0.05,0.06,0.07,0.08,0.09,0.1,0.11], "labels": false, "tickSize": -4, "title": null}}
         }},
        {"data": {"name": "concB"}, "transform": [{"filter": "datum.t >= 100 && datum.t <= 700"}], "mark": {"type": "point", "shape": "circle", "filled": true, "fill": "white", "stroke": "black", "strokeWidth": 0.8, "size": 12, "opacity": 1, "clip": true},
         "encoding": {
           "x": {"field": "x", "type": "quantitative", "scale": {"domain": [0.1, 1.005], "nice": false, "zero": false}, "axis": {"orient": "top", "values": [0.2,0.3,0.4,0.5,0.6,0.7,0.8,0.9], "labels": false, "tickSize": -4, "title": null}}
         }},
        {"data": {"name": "ages"}, "transform": [{"filter": "datum.panel == 'd'"}], "mark": {"type": "text", "fontSize": 15, "align": "center", "baseline": "middle"}, "encoding": {"text": {"field": "text"}}},
        {"data": {"name": "boxes"}, "transform": [{"filter": "datum.panel == 'd'"}], "mark": {"type": "rect", "fill": "white", "stroke": "#555555", "strokeWidth": 1, "clip": true}, "encoding": {"x2": {"field": "x2"}, "y2": {"field": "y2"}}},
        {"data": {"name": "txt"}, "transform": [{"filter": "datum.panel == 'd'"}], "mark": {"type": "text", "fontWeight": "bold", "fontSize": {"expr": "datum.kind == 'letter' ? 32 : datum.kind == 'title' ? 17 : datum.kind == 'subL' ? 16 : datum.kind == 'subM' ? 15 : datum.kind == 'sub' ? 14 : 13"}, "align": {"expr": "datum.kind == 'letter' ? 'center' : 'left'"}, "baseline": {"expr": "datum.kind == 'letter' ? 'alphabetic' : 'middle'"}}, "encoding": {"text": {"field": "text"}}}
      ]
    },
    {
      "width": 257, "height": 207,
      "resolve": {"axis": {"x": "independent", "y": "independent"}},
      "encoding": {
        "x": {"field": "x", "type": "quantitative", "scale": {"domain": [0.1, 1.005], "nice": false, "zero": false}, "axis": null},
        "y": {"field": "y", "type": "quantitative", "scale": {"domain": [0.01, 0.12], "nice": false, "zero": false}, "axis": null}
      },
      "layer": [
        {"data": {"name": "ell"}, "transform": [{"filter": "datum.panel == 'e'"}],
         "mark": {"type": "point", "filled": false, "color": "black", "strokeWidth": 0.8, "opacity": 1, "clip": true},
         "encoding": {
           "shape": {"field": "ratio", "type": "nominal", "legend": null, "scale": {"domain": ["r08","r12","r15","r18","r20","r22","r25","r30","r35","r40","r45","r50","r55","r60","r70"], "range": ["M-1,0A1,0.08,0,1,0,1,0A1,0.08,0,1,0,-1,0Z","M-1,0A1,0.12,0,1,0,1,0A1,0.12,0,1,0,-1,0Z","M-1,0A1,0.15,0,1,0,1,0A1,0.15,0,1,0,-1,0Z","M-1,0A1,0.18,0,1,0,1,0A1,0.18,0,1,0,-1,0Z","M-1,0A1,0.2,0,1,0,1,0A1,0.2,0,1,0,-1,0Z","M-1,0A1,0.22,0,1,0,1,0A1,0.22,0,1,0,-1,0Z","M-1,0A1,0.25,0,1,0,1,0A1,0.25,0,1,0,-1,0Z","M-1,0A1,0.3,0,1,0,1,0A1,0.3,0,1,0,-1,0Z","M-1,0A1,0.35,0,1,0,1,0A1,0.35,0,1,0,-1,0Z","M-1,0A1,0.4,0,1,0,1,0A1,0.4,0,1,0,-1,0Z","M-1,0A1,0.45,0,1,0,1,0A1,0.45,0,1,0,-1,0Z","M-1,0A1,0.5,0,1,0,1,0A1,0.5,0,1,0,-1,0Z","M-1,0A1,0.55,0,1,0,1,0A1,0.55,0,1,0,-1,0Z","M-1,0A1,0.6,0,1,0,1,0A1,0.6,0,1,0,-1,0Z","M-1,0A1,0.7,0,1,0,1,0A1,0.7,0,1,0,-1,0Z"]}},
           "size": {"field": "major", "type": "quantitative", "legend": null, "scale": {"type": "pow", "exponent": 2, "domain": [0, 0.905], "range": [0, 66049]}},
           "angle": {"field": "angle", "type": "quantitative", "scale": null}
         }},
        {"data": {"name": "concB"}, "mark": {"type": "line", "color": "black", "strokeWidth": 1.6, "clip": true},
         "encoding": {
           "x": {"field": "x", "type": "quantitative", "scale": {"domain": [0.1, 1.005], "nice": false, "zero": false}, "axis": {"orient": "bottom", "values": [0.1,0.2,0.3,0.4,0.5,0.6,0.7,0.8,0.9], "format": ".1f", "labelExpr": "round(datum.value*10) % 2 == 1 ? datum.label : ''", "title": "²⁰⁷Pb/²³⁵U", "titlePadding": 8, "labelPadding": 4}},
           "y": {"field": "y", "type": "quantitative", "scale": {"domain": [0.01, 0.12], "nice": false, "zero": false}, "axis": {"orient": "left", "values": [0.03,0.05,0.07,0.09,0.11], "format": ".2f", "title": "²⁰⁶Pb/²³⁸U", "titleFont": "DejaVu Sans", "titleFontSize": 25, "titlePadding": 14, "labelPadding": 1}}
         }},
        {"data": {"name": "concB"}, "transform": [{"filter": "datum.t >= 100 && datum.t <= 700"}], "mark": {"type": "point", "shape": "circle", "filled": true, "fill": "white", "stroke": "black", "strokeWidth": 0.8, "size": 12, "opacity": 1, "clip": true},
         "encoding": {
           "x": {"field": "x", "type": "quantitative", "scale": {"domain": [0.1, 1.005], "nice": false, "zero": false}, "axis": {"orient": "top", "values": [0.2,0.3,0.4,0.5,0.6,0.7,0.8,0.9], "labels": false, "tickSize": -4, "title": null}},
           "y": {"field": "y", "type": "quantitative", "scale": {"domain": [0.01, 0.12], "nice": false, "zero": false}, "axis": {"orient": "left", "values": [0.02,0.04,0.06,0.08,0.1], "labels": false, "tickSize": -4, "title": null}}
         }},
        {"data": {"name": "ages"}, "transform": [{"filter": "datum.panel == 'e'"}], "mark": {"type": "text", "fontSize": 15, "align": "center", "baseline": "middle"}, "encoding": {"text": {"field": "text"}}},
        {"data": {"name": "boxes"}, "transform": [{"filter": "datum.panel == 'e'"}], "mark": {"type": "rect", "fill": "white", "stroke": "#555555", "strokeWidth": 1, "clip": true}, "encoding": {"x2": {"field": "x2"}, "y2": {"field": "y2"}}},
        {"data": {"name": "txt"}, "transform": [{"filter": "datum.panel == 'e'"}], "mark": {"type": "text", "fontWeight": "bold", "fontSize": {"expr": "datum.kind == 'letter' ? 32 : datum.kind == 'title' ? 17 : datum.kind == 'subL' ? 16 : datum.kind == 'subM' ? 15 : datum.kind == 'sub' ? 14 : 13"}, "align": {"expr": "datum.kind == 'letter' ? 'center' : 'left'"}, "baseline": {"expr": "datum.kind == 'letter' ? 'alphabetic' : 'middle'"}}, "encoding": {"text": {"field": "text"}}}
      ]
    },
    {
      "width": 256, "height": 207,
      "resolve": {"axis": {"x": "independent", "y": "independent"}},
      "encoding": {
        "x": {"field": "x", "type": "quantitative", "scale": {"domain": [0.1, 1.005], "nice": false, "zero": false}, "axis": null},
        "y": {"field": "y", "type": "quantitative", "scale": {"domain": [0.01, 0.12], "nice": false, "zero": false}, "axis": null}
      },
      "layer": [
        {"data": {"name": "ell"}, "transform": [{"filter": "datum.panel == 'f'"}],
         "mark": {"type": "point", "filled": false, "color": "black", "strokeWidth": 0.8, "opacity": 1, "clip": true},
         "encoding": {
           "shape": {"field": "ratio", "type": "nominal", "legend": null, "scale": {"domain": ["r08","r12","r15","r18","r20","r22","r25","r30","r35","r40","r45","r50","r55","r60","r70"], "range": ["M-1,0A1,0.08,0,1,0,1,0A1,0.08,0,1,0,-1,0Z","M-1,0A1,0.12,0,1,0,1,0A1,0.12,0,1,0,-1,0Z","M-1,0A1,0.15,0,1,0,1,0A1,0.15,0,1,0,-1,0Z","M-1,0A1,0.18,0,1,0,1,0A1,0.18,0,1,0,-1,0Z","M-1,0A1,0.2,0,1,0,1,0A1,0.2,0,1,0,-1,0Z","M-1,0A1,0.22,0,1,0,1,0A1,0.22,0,1,0,-1,0Z","M-1,0A1,0.25,0,1,0,1,0A1,0.25,0,1,0,-1,0Z","M-1,0A1,0.3,0,1,0,1,0A1,0.3,0,1,0,-1,0Z","M-1,0A1,0.35,0,1,0,1,0A1,0.35,0,1,0,-1,0Z","M-1,0A1,0.4,0,1,0,1,0A1,0.4,0,1,0,-1,0Z","M-1,0A1,0.45,0,1,0,1,0A1,0.45,0,1,0,-1,0Z","M-1,0A1,0.5,0,1,0,1,0A1,0.5,0,1,0,-1,0Z","M-1,0A1,0.55,0,1,0,1,0A1,0.55,0,1,0,-1,0Z","M-1,0A1,0.6,0,1,0,1,0A1,0.6,0,1,0,-1,0Z","M-1,0A1,0.7,0,1,0,1,0A1,0.7,0,1,0,-1,0Z"]}},
           "size": {"field": "major", "type": "quantitative", "legend": null, "scale": {"type": "pow", "exponent": 2, "domain": [0, 0.905], "range": [0, 65536]}},
           "angle": {"field": "angle", "type": "quantitative", "scale": null}
         }},
        {"data": {"name": "concB"}, "mark": {"type": "line", "color": "black", "strokeWidth": 1.6, "clip": true},
         "encoding": {
           "x": {"field": "x", "type": "quantitative", "scale": {"domain": [0.1, 1.005], "nice": false, "zero": false}, "axis": {"orient": "bottom", "values": [0.1,0.2,0.3,0.4,0.5,0.6,0.7,0.8,0.9], "format": ".1f", "labelExpr": "round(datum.value*10) % 2 == 1 && round(datum.value*10) > 1 ? datum.label : ''", "title": "²⁰⁷Pb/²³⁵U", "titlePadding": 8, "labelPadding": 4}},
           "y": {"field": "y", "type": "quantitative", "scale": {"domain": [0.01, 0.12], "nice": false, "zero": false}, "axis": {"orient": "left", "values": [0.02,0.03,0.04,0.05,0.06,0.07,0.08,0.09,0.1,0.11], "labels": false, "tickSize": -4, "title": null}}
         }},
        {"data": {"name": "concB"}, "transform": [{"filter": "datum.t >= 100 && datum.t <= 700"}], "mark": {"type": "point", "shape": "circle", "filled": true, "fill": "white", "stroke": "black", "strokeWidth": 0.8, "size": 12, "opacity": 1, "clip": true},
         "encoding": {
           "x": {"field": "x", "type": "quantitative", "scale": {"domain": [0.1, 1.005], "nice": false, "zero": false}, "axis": {"orient": "top", "values": [0.2,0.3,0.4,0.5,0.6,0.7,0.8,0.9], "labels": false, "tickSize": -4, "title": null}}
         }},
        {"data": {"name": "ages"}, "transform": [{"filter": "datum.panel == 'f'"}], "mark": {"type": "text", "fontSize": 15, "align": "center", "baseline": "middle"}, "encoding": {"text": {"field": "text"}}},
        {"data": {"name": "boxes"}, "transform": [{"filter": "datum.panel == 'f'"}], "mark": {"type": "rect", "fill": "white", "stroke": "#555555", "strokeWidth": 1, "clip": true}, "encoding": {"x2": {"field": "x2"}, "y2": {"field": "y2"}}},
        {"data": {"name": "txt"}, "transform": [{"filter": "datum.panel == 'f'"}], "mark": {"type": "text", "fontWeight": "bold", "fontSize": {"expr": "datum.kind == 'letter' ? 32 : datum.kind == 'title' ? 17 : datum.kind == 'subL' ? 16 : datum.kind == 'subM' ? 15 : datum.kind == 'sub' ? 14 : 13"}, "align": {"expr": "datum.kind == 'letter' ? 'center' : 'left'"}, "baseline": {"expr": "datum.kind == 'letter' ? 'alphabetic' : 'middle'"}}, "encoding": {"text": {"field": "text"}}}
      ]
    }
  ]
}
